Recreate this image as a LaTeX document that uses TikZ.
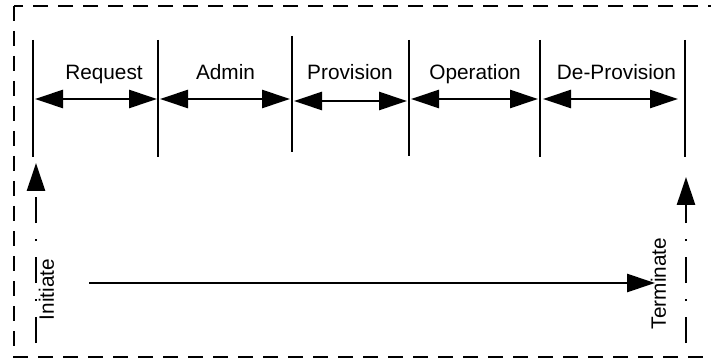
\documentclass[tikz,border=0pt]{standalone}
\usepackage{fontspec}
\setmainfont{Liberation Sans}
\usetikzlibrary{arrows.meta}
\begin{document}
\begin{tikzpicture}[x=1pt,y=-1pt,
  every node/.style={inner sep=0pt,font=\fontsize{20.8}{25}\selectfont},
  frame/.style={line width=2.4pt,dash pattern=on 15pt off 10pt},
  phaseline/.style={line width=2.6pt},
  head/.tip={Triangle[length=28pt,width=18pt]},
  span/.style={line width=2.6pt,head-head},
  flow/.style={line width=2.6pt,-head},
  event/.style={line width=2.6pt,-head,dash pattern=on 26pt off 16pt on 2pt off 16pt},
  label/.style={anchor=base},
  sidelabel/.style={rotate=90,anchor=center}]
  \useasboundingbox (0,0) rectangle (711,363);
  \clip (0,0) rectangle (711,363);

  % outer dashed frame (right side runs past the page edge)
  \draw[frame] (14,6) rectangle (730,357);

  % phase boundaries
  \foreach \n/\x/\a/\b in {1/33/40/157, 2/158/40/157, 3/292/36/152,
                           4/409/40/156, 5/540/40/157, 6/685/40/157} {
    \coordinate (t\n) at (\x,\a);
    \coordinate (b\n) at (\x,\b);
    \draw[phaseline] (t\n) -- (b\n);
  }

  % span arrows between boundaries
  \coordinate (s1l) at (35,99);   \coordinate (s1r) at (157,99);
  \coordinate (s2l) at (160,99);  \coordinate (s2r) at (290,99);
  \coordinate (s3l) at (294,101); \coordinate (s3r) at (407,101);
  \coordinate (s4l) at (411,99);  \coordinate (s4r) at (538,99);
  \coordinate (s5l) at (543,99);  \coordinate (s5r) at (678,99);
  \foreach \n in {1,...,5} \draw[span] (s\n l) -- (s\n r);

  % phase names
  \node[label] (request)   at (104,80)   {Request};
  \node[label] (admin)     at (225.5,80) {Admin};
  \node[label] (provision) at (350,80)   {Provision};
  \node[label] (operation) at (475,80)   {Operation};
  \node[label] (deprov)    at (616.5,80) {De-Provision};

  % initiate / terminate events
  \coordinate (ini0) at (36,343);  \coordinate (ini1) at (36,163);
  \coordinate (ter0) at (686,343); \coordinate (ter1) at (686,177);
  \draw[event] (ini0) -- (ini1);
  \draw[event] (ter0) -- (ter1);
  \node[sidelabel] (initiate)  at (46.5,289.5) {Initiate};
  \node[sidelabel] (terminate) at (658.5,283.5) {Terminate};

  % overall life-cycle arrow
  \coordinate (lc0) at (89,283);
  \coordinate (lc1) at (655,283);
  \draw[flow] (lc0) -- (lc1);
\end{tikzpicture}
\end{document}
